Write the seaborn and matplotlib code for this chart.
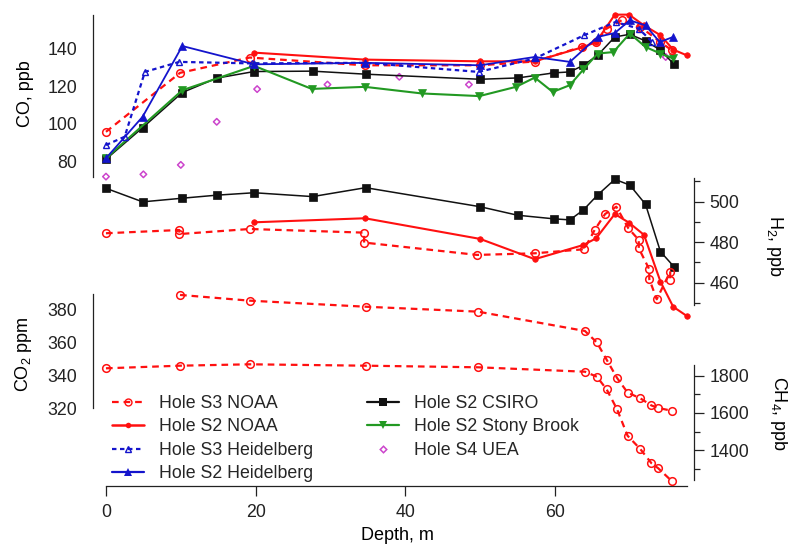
import matplotlib
matplotlib.use("Agg")
import matplotlib.pyplot as plt
from matplotlib.lines import Line2D
import seaborn as sns

# ---- values ----
# Hole S2 CSIRO (CO and H2 share the depths)
csiro_depth = [0, 4.9, 10.2, 14.8, 19.8, 27.6, 34.7, 50.0, 55.0, 59.9,
               62.0, 63.8, 65.7, 68.0, 70.0, 72.1, 74.1, 75.9]
csiro_co = [81.3, 98.0, 116.6, 124.2, 127.7, 127.9, 126.3, 123.6, 124.3, 127.0,
            127.5, 131.0, 136.3, 146.0, 147.4, 143.9, 139.0, 131.6]
csiro_h2 = [506.6, 499.9, 501.7, 503.2, 504.4, 502.5, 506.9, 497.5, 493.3, 491.5,
            491.0, 495.9, 503.3, 511.0, 508.2, 498.7, 475.3, 467.9]

# Hole S2 Stony Brook
stony_depth = [0, 10.2, 19.8, 27.5, 34.6, 42.2, 49.9, 54.8, 57.3, 59.7,
               62.0, 63.8, 65.7, 67.8, 70.0, 72.1, 74.1, 75.8]
stony_co = [81.8, 117.8, 130.7, 118.5, 119.6, 116.1, 114.7, 119.6, 124.5, 116.9,
            120.5, 128.8, 137.2, 138.0, 147.8, 140.7, 137.2, 134.6]

# Hole S2 Heidelberg
heid2_depth = [0, 4.9, 10.2, 19.8, 34.6, 50.0, 57.3, 62.0, 65.7, 68.0, 70.0, 72.1, 74.0, 75.8]
heid2_co = [81.8, 103.8, 141.2, 131.5, 132.3, 131.0, 135.4, 132.8, 146.0, 148.1, 154.8, 152.1, 143.3, 146.0]

# Hole S3 Heidelberg
heid3_depth = [0, 2.5, 5.2, 9.8, 19.5, 34.6, 49.8, 57.3, 63.9, 68.1, 71.2, 73.0]
heid3_co = [88.8, 93.2, 127.5, 132.8, 132.0, 132.3, 127.5, 134.6, 146.9, 153.9, 150.4, 143.3]

# Hole S2 NOAA (CO and H2 share the depths)
noaa2_depth = [19.8, 34.6, 50.0, 57.3, 63.8, 65.5, 68.0, 69.9, 71.9, 74.1, 75.8, 77.6]
noaa2_co = [137.7, 134.0, 133.1, 133.1, 140.7, 143.3, 157.8, 157.8, 152.1, 146.9, 139.3, 136.3]
noaa2_h2 = [489.8, 491.8, 481.6, 471.6, 478.6, 481.9, 493.9, 489.6, 483.6, 460.5, 448.1, 443.6]

# Hole S3 NOAA
noaa3_co_depth = [0, 9.9, 19.2, 34.6, 50.0, 57.3, 63.6, 65.5, 66.9, 69.0, 71.4, 74.0, 75.6]
noaa3_co = [95.8, 127.0, 135.1, 131.0, 131.0, 133.0, 140.8, 143.5, 150.4, 155.0, 151.4, 143.5, 139.0]
noaa3_h2_depth = [0, 9.8, 9.8, 19.2, 34.5, 34.5, 49.6, 57.3, 63.9, 65.3, 66.7, 68.2,
                  69.8, 71.2, 71.2, 72.6, 72.6, 73.6, 75.4, 75.4]
noaa3_h2 = [484.4, 486.0, 484.0, 486.5, 484.7, 479.8, 473.7, 474.5, 476.5, 486.0, 493.9, 497.5,
            486.9, 481.1, 477.0, 466.6, 461.8, 451.8, 465.4, 461.3]
co2_depth = [9.9, 19.2, 34.7, 49.7, 64.0, 65.6, 66.9, 68.3, 69.7, 71.4, 72.9, 73.8, 75.6]
co2_ppm = [389.2, 385.7, 382.0, 379.0, 367.2, 360.2, 349.7, 338.5, 329.6, 326.1, 321.7, 320.2, 318.5]
ch4_depth = [0, 9.9, 19.2, 34.7, 49.7, 64.0, 65.6, 66.9, 68.3, 69.7, 71.4, 72.9, 73.8, 75.6]
ch4_ppb = [1839.8, 1853.8, 1861.3, 1853.8, 1845.2, 1821.5, 1794.6, 1726.9, 1619.4, 1477.4,
           1405.9, 1329.0, 1302.2, 1233.9]

# Hole S4 UEA
uea_depth = [0, 5.0, 10.0, 14.8, 20.2, 29.6, 39.2, 48.5, 59.8, 71.3, 74.8]
uea_co = [72.1, 73.3, 78.3, 101.1, 118.4, 120.8, 124.9, 120.8, 127.0, 151.2, 135.4]

sns.set_theme(style="white")
plt.rcParams["font.family"] = ["Liberation Sans", "DejaVu Sans"]
plt.rcParams["mathtext.default"] = "regular"

RED = "#ff1010"
BLUE = "#1414cc"
GREEN = "#229922"
BLACK = "#111111"
MAG = "#cc44cc"
INK = "#222222"
FS = 12.8

fig = plt.figure(figsize=(7.88, 5.45), dpi=100)
rect = [92.5 / 788, 59 / 545, 601.5 / 788, 481 / 545]
xlim = (-1.8, 78.58)


def make_axis(side, ylim, bounds, major, minor=None):
    ax = fig.add_axes(rect)
    ax.patch.set_alpha(0)
    for s in ax.spines.values():
        s.set_visible(False)
    sp = ax.spines[side]
    sp.set_visible(True)
    sp.set_bounds(*bounds)
    sp.set_color(INK)
    sp.set_linewidth(0.9)
    ax.set_xlim(*xlim)
    ax.set_ylim(*ylim)
    ax.set_yticks(major)
    if minor:
        ax.set_yticks(minor, minor=True)
    if side == "right":
        ax.yaxis.tick_right()
    ax.tick_params(axis="y", which="major", length=7, width=0.9, color=INK,
                   labelsize=FS, labelcolor=INK, pad=4)
    ax.tick_params(axis="y", which="minor", length=4, width=0.9, color=INK)
    ax.tick_params(axis="x", bottom=False, labelbottom=False)
    return ax


ax_co = make_axis("left", (-91.6, 162.9), (72, 157.6), [80, 100, 120, 140])
ax_h2 = make_axis("right", (359.6, 597.1), (449, 511.5), [460, 480, 500], [450, 470, 490, 510])
ax_co2 = make_axis("left", (272.55, 566.2), (320, 390), [320, 340, 360, 380], [330, 350, 370, 390])
ax_ch4 = make_axis("right", (1207, 3793), (1240, 1857), [1400, 1600, 1800], [1300, 1500, 1700])

# bottom depth axis
ax_co2.spines["bottom"].set_visible(True)
ax_co2.spines["bottom"].set_bounds(0, 77.6)
ax_co2.spines["bottom"].set_color(INK)
ax_co2.spines["bottom"].set_linewidth(0.9)
ax_co2.set_xticks([0, 20, 40, 60])
ax_co2.tick_params(axis="x", bottom=True, labelbottom=True, length=7, width=0.9,
                   color=INK, labelsize=FS, labelcolor=INK, pad=6)

red_dash = (0, (3, 2.2))
blue_dash = (0, (2, 1.6))
common = dict(estimator=None, sort=False)


def line(ax, x, y, color, **kw):
    sns.lineplot(x=x, y=y, ax=ax, color=color, mec=color, **common, **kw)


# CO panel
line(ax_co, csiro_depth, csiro_co, BLACK, lw=1.1, marker="s", ms=6, mew=0.5)
line(ax_co, stony_depth, stony_co, GREEN, lw=1.5, marker="v", ms=5.5, mew=0.5)
sns.scatterplot(x=uea_depth, y=uea_co, ax=ax_co, marker="D", s=11, facecolor="none",
                edgecolor=MAG, linewidth=1.1)
line(ax_co, noaa3_co_depth, noaa3_co, RED, lw=1.6, ls=red_dash, marker="o", ms=5.5,
     mfc="none", mew=1.1)
line(ax_co, noaa2_depth, noaa2_co, RED, lw=1.5, marker="o", ms=4, mew=0.5)
line(ax_co, heid3_depth, heid3_co, BLUE, lw=1.6, ls=blue_dash, marker="^", ms=5,
     mfc="none", mew=1)
line(ax_co, heid2_depth, heid2_co, BLUE, lw=1.3, marker="^", ms=5.5, mew=0.5)

# H2 panel
line(ax_h2, csiro_depth, csiro_h2, BLACK, lw=1.1, marker="s", ms=6, mew=0.5)
line(ax_h2, noaa3_h2_depth, noaa3_h2, RED, lw=1.6, ls=red_dash, marker="o", ms=5.5,
     mfc="none", mew=1.1)
line(ax_h2, noaa2_depth, noaa2_h2, RED, lw=1.5, marker="o", ms=4, mew=0.5)

# CO2 / CH4 panel
line(ax_co2, co2_depth, co2_ppm, RED, lw=1.6, ls=red_dash, marker="o", ms=5.5,
     mfc="none", mew=1.1)
line(ax_ch4, ch4_depth, ch4_ppb, RED, lw=1.6, ls=red_dash, marker="o", ms=5.5,
     mfc="none", mew=1.1)

for ax in (ax_co, ax_h2, ax_co2, ax_ch4):
    ax.set_xlabel("")
    ax.set_ylabel("")
    if ax.get_legend():
        ax.get_legend().remove()

# axis titles
fig.text(25 / 788, 1 - 94 / 545, "CO, ppb", rotation=90, ha="center", va="center",
         fontsize=13, color="black")
fig.text(24 / 788, 1 - 354 / 545, "CO$_2$ ppm", rotation=90, ha="center", va="center",
         fontsize=13, color="black")
fig.text(775 / 788, 1 - 246 / 545, "H$_2$, ppb", rotation=270, ha="center", va="center",
         fontsize=13, color="black")
fig.text(778 / 788, 1 - 413 / 545, "CH$_4$, ppb", rotation=270, ha="center", va="center",
         fontsize=13, color="black")
fig.text(397 / 788, 1 - 540 / 545, "Depth, m", ha="center", va="baseline",
         fontsize=13, color="black")

handles = [
    Line2D([], [], color=RED, lw=1.6, ls=red_dash, marker="o", ms=5, mfc="none", mew=1),
    Line2D([], [], color=RED, lw=1.8, marker="o", ms=4, mew=0),
    Line2D([], [], color=BLUE, lw=1.6, ls=blue_dash, marker="^", ms=5, mfc="none", mew=1),
    Line2D([], [], color=BLUE, lw=1.6, marker="^", ms=5.5, mew=0),
    Line2D([], [], color=BLACK, lw=1.6, marker="s", ms=6, mew=0),
    Line2D([], [], color=GREEN, lw=1.6, marker="v", ms=5.5, mew=0),
    Line2D([], [], color=MAG, ls="none", marker="D", ms=3.3, mfc="none", mew=1.1),
]
labels = ["Hole S3 NOAA", "Hole S2 NOAA", "Hole S3 Heidelberg", "Hole S2 Heidelberg",
          "Hole S2 CSIRO", "Hole S2 Stony Brook", "Hole S4 UEA"]
fig.legend(handles, labels, ncol=2, frameon=False, fontsize=FS, loc="upper left",
           bbox_to_anchor=(112 / 788, 1 - 395 / 545), borderpad=0, borderaxespad=0,
           handlelength=1.8, handletextpad=0.85, columnspacing=3.0, labelspacing=0.36)

fig.savefig("out.png", dpi=100)
